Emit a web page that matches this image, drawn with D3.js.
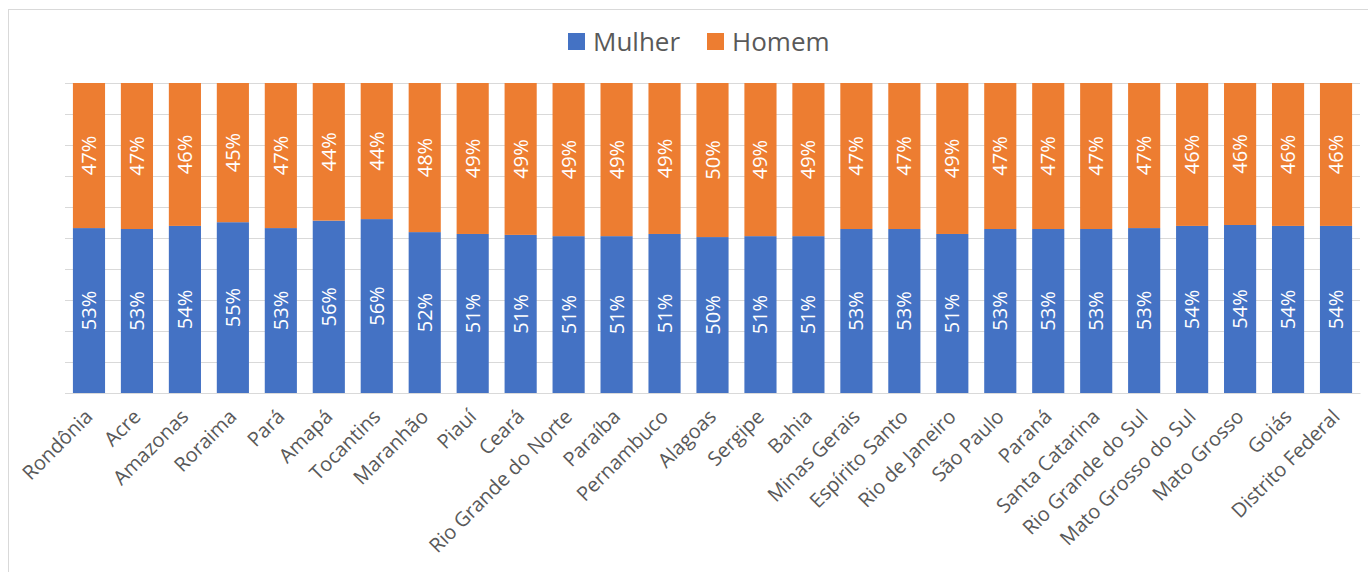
<!DOCTYPE html>
<meta charset="utf-8">
<style>
  body { margin: 0; background: #fff; }
  text { font-family: "Open Sans", "Noto Sans", sans-serif; }
</style>
<body>
<script src="https://cdn.jsdelivr.net/npm/d3@7"></script>
<script>
  var width = 1368,
      height = 572;

  // states in chart order
  var estados = ["Rondônia", "Acre", "Amazonas", "Roraima", "Pará", "Amapá", "Tocantins",
    "Maranhão", "Piauí", "Ceará", "Rio Grande do Norte", "Paraíba", "Pernambuco", "Alagoas",
    "Sergipe", "Bahia", "Minas Gerais", "Espírito Santo", "Rio de Janeiro", "São Paulo",
    "Paraná", "Santa Catarina", "Rio Grande do Sul", "Mato Grosso do Sul", "Mato Grosso",
    "Goiás", "Distrito Federal"];

  // share of women / men per state
  var mulher = [0.532, 0.529, 0.539, 0.551, 0.532, 0.556, 0.561, 0.519, 0.513, 0.510, 0.506,
    0.506, 0.513, 0.503, 0.506, 0.506, 0.529, 0.529, 0.513, 0.529, 0.529, 0.529, 0.532,
    0.539, 0.542, 0.539, 0.539];
  var homem = [0.468, 0.471, 0.461, 0.449, 0.468, 0.444, 0.439, 0.481, 0.487, 0.490, 0.494,
    0.494, 0.487, 0.497, 0.494, 0.494, 0.471, 0.471, 0.487, 0.471, 0.471, 0.471, 0.468,
    0.461, 0.458, 0.461, 0.461];

  var series = ["Mulher", "Homem"];
  var cores = ["#4472C4", "#ED7D31"];

  var svg = d3.select("body").append("svg")
      .attr("width", width)
      .attr("height", height);

  // chart frame
  svg.append("rect")
      .attr("x", 8.5).attr("y", 9.5)
      .attr("width", width).attr("height", height)
      .attr("fill", "none")
      .attr("stroke", "#d9d9d9");

  var plot = {left: 65, right: 1360, top: 83, bottom: 393};

  var x = d3.scaleBand()
      .domain(estados)
      .range([plot.left, plot.right])
      .paddingInner(0.33)
      .paddingOuter(0.165);

  var y = d3.scaleLinear()
      .domain([0, 1])
      .range([plot.bottom, plot.top]);

  // gridlines
  svg.append("g")
      .selectAll("line")
      .data(y.ticks(10))
      .enter().append("line")
      .attr("x1", plot.left).attr("x2", plot.right)
      .attr("y1", function(d) { return Math.round(y(d)) + 0.5; })
      .attr("y2", function(d) { return Math.round(y(d)) + 0.5; })
      .attr("stroke", "#d9d9d9")
      .attr("stroke-width", 1);

  var rows = estados.map(function(e, i) {
    return {estado: e, Mulher: mulher[i], Homem: homem[i]};
  });
  var stacked = d3.stack().keys(series)(rows);

  var fmt = d3.format(".0%");

  var layer = svg.append("g")
      .selectAll("g")
      .data(stacked)
      .enter().append("g")
      .attr("fill", function(d, i) { return cores[i]; });

  layer.selectAll("rect")
      .data(function(d) { return d; })
      .enter().append("rect")
      .attr("x", function(d) { return x(d.data.estado); })
      .attr("width", x.bandwidth())
      .attr("y", function(d) { return y(d[1]); })
      .attr("height", function(d) { return y(d[0]) - y(d[1]); });

  // value labels, rotated inside bars
  layer.selectAll("text")
      .data(function(d) { return d; })
      .enter().append("text")
      .attr("transform", function(d) {
        var cx = x(d.data.estado) + x.bandwidth() / 2,
            cy = (y(d[0]) + y(d[1])) / 2;
        return "translate(" + cx + "," + cy + ") rotate(-90)";
      })
      .attr("text-anchor", "middle")
      .attr("dy", "0.35em")
      .attr("fill", "#fff")
      .style("font-size", "20px")
      .text(function(d) { return fmt(d[1] - d[0]); });

  // category axis
  var xAxis = svg.append("g")
      .attr("transform", "translate(0," + plot.bottom + ")")
      .call(d3.axisBottom(x).tickSize(0).tickPadding(0));
  xAxis.select(".domain").attr("stroke", "#d9d9d9");
  xAxis.selectAll("text")
      .attr("fill", "#595959")
      .style("font-size", "20px")
      .attr("text-anchor", "end")
      .attr("transform", "translate(0,20) rotate(-45)")
      .attr("dy", "0.35em")
      .attr("y", 0);

  // legend
  var legend = svg.append("g").attr("transform", "translate(568,30)");
  var lx = [0, 139];
  series.forEach(function(s, i) {
    legend.append("rect")
        .attr("x", lx[i]).attr("y", 3)
        .attr("width", 17).attr("height", 17)
        .attr("fill", cores[i]);
    legend.append("text")
        .attr("x", lx[i] + 25).attr("y", 12)
        .attr("dy", "0.35em")
        .attr("fill", "#595959")
        .style("font-size", "26px")
        .text(s);
  });
</script>
</body>
</html>
